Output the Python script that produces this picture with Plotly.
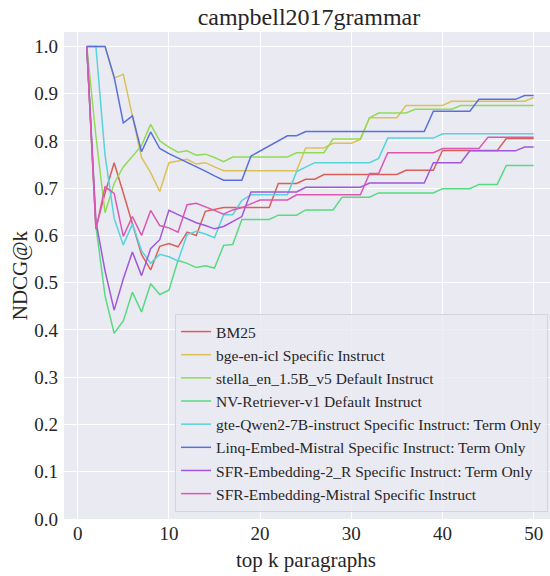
import plotly.graph_objects as go

k = list(range(1, 51))

bm25 = [1.0, 0.615, 0.69, 0.754, 0.69, 0.625, 0.56, 0.527, 0.577, 0.583,
        0.576, 0.607, 0.6, 0.651, 0.655] + [0.659] * 6 + [0.71] * 3 + [0.719] * 2 \
    + [0.729] * 9 + [0.738] * 4 + [0.78] * 7 + [0.805] * 4

bge_icl = [1.0, 1.0, 1.0, 0.933, 0.941, 0.853, 0.765, 0.733, 0.693, 0.754,
           0.757, 0.761, 0.751, 0.754, 0.745] + [0.737] * 9 + [0.785] * 3 \
    + [0.795] * 3 + [0.803] + [0.849] * 4 + [0.875] * 5 + [0.884] * 9 + [0.892]

stella = [1.0, 0.81, 0.648, 0.71, 0.745, 0.768, 0.79, 0.835, 0.8, 0.787,
          0.776, 0.779, 0.77, 0.772, 0.765, 0.756] + [0.766] * 7 + [0.775] * 4 \
    + [0.804] * 4 + [0.849] + [0.859] * 4 + [0.867] * 5 + [0.875] * 9

nv_retriever = [1.0, 0.62, 0.472, 0.393, 0.419, 0.48, 0.438, 0.498, 0.475, 0.484,
                0.547, 0.541, 0.532, 0.536, 0.531, 0.579, 0.581] + [0.634] * 4 \
    + [0.643] * 3 + [0.654] * 4 + [0.681] * 4 + [0.69] * 7 + [0.699] * 4 \
    + [0.708] * 3 + [0.748] * 4

gte_qwen = [1.0, 1.0, 0.77, 0.636, 0.58, 0.624, 0.568, 0.541, 0.56, 0.555,
            0.546, 0.602, 0.609, 0.603, 0.595, 0.644, 0.644, 0.674] + [0.686] * 5 \
    + [0.735, 0.745] + [0.754] * 7 + [0.763] + [0.806] * 6 + [0.815] * 11

linq = [1.0, 1.0, 1.0, 0.935, 0.838, 0.853, 0.777, 0.819, 0.784, 0.773,
        0.764, 0.754, 0.745, 0.736, 0.726] + [0.717] * 3 \
    + [0.768, 0.779, 0.79, 0.8, 0.811, 0.811] + [0.82] * 14 + [0.863] * 5 \
    + [0.888] * 5 + [0.896] * 2

sfr_2r = [1.0, 0.63, 0.525, 0.442, 0.508, 0.565, 0.515, 0.572, 0.591, 0.653,
          0.644, 0.635, 0.627, 0.621, 0.614, 0.619, 0.63, 0.64] + [0.692] * 6 \
    + [0.702] * 7 + [0.711] * 7 + [0.754] * 4 + [0.779] * 6 + [0.787] * 2

sfr_mistral = [1.0, 0.613, 0.703, 0.689, 0.598, 0.64, 0.6, 0.653, 0.621, 0.616,
               0.607, 0.665, 0.668, 0.661, 0.653, 0.645, 0.654, 0.659, 0.667] \
    + [0.675] * 4 + [0.686] * 8 + [0.731] * 2 + [0.775] * 6 + [0.784] * 5 \
    + [0.808] * 6

names = [
    "BM25",
    "bge-en-icl Specific Instruct",
    "stella_en_1.5B_v5 Default Instruct",
    "NV-Retriever-v1 Default Instruct",
    "gte-Qwen2-7B-instruct Specific Instruct: Term Only",
    "Linq-Embed-Mistral Specific Instruct: Term Only",
    "SFR-Embedding-2_R Specific Instruct: Term Only",
    "SFR-Embedding-Mistral Specific Instruct",
]
series = [bm25, bge_icl, stella, nv_retriever, gte_qwen, linq, sfr_2r, sfr_mistral]
# seaborn hls palette, 8 colours
colors = ["#db5f57", "#dbc257", "#91db57", "#57db80",
          "#57d3db", "#5770db", "#a157db", "#db57b2"]

font = "Liberation Serif"
text_color = "#262626"

fig = go.Figure()
for name, values, color in zip(names, series, colors):
    fig.add_trace(
        go.Scatter(x=k, y=values, name=name, mode="lines",
                   line={"color": color, "width": 1.5})
    )

axis_style = {
    "gridcolor": "white",
    "gridwidth": 1.2,
    "zeroline": False,
    "showline": False,
    "ticks": "",
    "automargin": False,
    "tickfont": {"family": font, "size": 19, "color": text_color},
}

fig.update_layout(
    width=550,
    height=576,
    margin={"l": 64, "r": 0, "t": 32, "b": 57},
    paper_bgcolor="white",
    plot_bgcolor="#eaeaf2",
    font={"family": font, "size": 19, "color": text_color},
    title={"text": "campbell2017grammar", "x": 0.504, "xref": "paper",
           "xanchor": "center", "y": 0.971, "yanchor": "middle",
           "font": {"family": font, "size": 24, "color": text_color}},
    xaxis={**axis_style,
           "range": [-1.5, 51.79],
           "tickvals": [0, 10, 20, 30, 40, 50],
           "ticklabelstandoff": 1},
    yaxis={**axis_style,
           "range": [0, 1.0305],
           "tickvals": [i / 10 for i in range(11)],
           "tickformat": ".1f",
           "ticklabelstandoff": 5},
    legend={
        "x": 0.996,
        "xanchor": "right",
        "y": 0.0144,
        "yanchor": "bottom",
        "bgcolor": "rgba(234,234,242,0.8)",
        "bordercolor": "#d4d4dc",
        "borderwidth": 1,
        "font": {"family": font, "size": 15.5, "color": text_color},
        "itemwidth": 30,
    },
    annotations=[
        {"text": "top k paragraphs", "xref": "paper", "yref": "paper",
         "x": 0.497, "y": -0.085, "xanchor": "center", "yanchor": "middle",
         "showarrow": False, "font": {"family": font, "size": 21}},
        {"text": "NDCG@k", "xref": "paper", "yref": "paper",
         "x": -0.091, "y": 0.5, "xanchor": "center", "yanchor": "middle",
         "textangle": -90, "showarrow": False,
         "font": {"family": font, "size": 21}},
    ],
)

# the page's default body margin would shift the figure by 8px
fig.write_html("out.html", config={"displayModeBar": False},
               post_script="document.body.style.margin = '0';")
